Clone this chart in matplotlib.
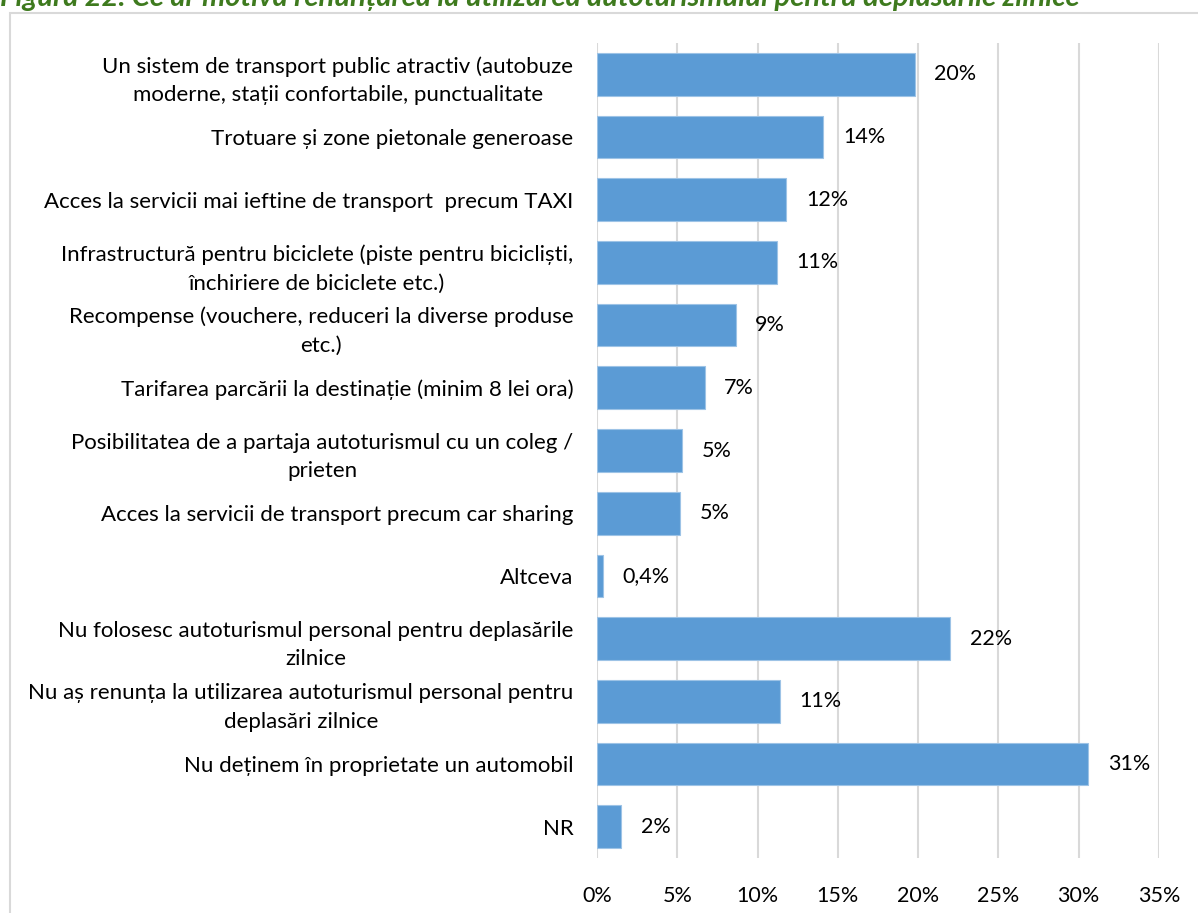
import matplotlib.pyplot as plt
from matplotlib.patches import Rectangle
from matplotlib.ticker import FuncFormatter, MultipleLocator

categories = [
    "Un sistem de transport public atractiv (autobuze\nmoderne, stații confortabile, punctualitate",
    "Trotuare și zone pietonale generoase",
    "Acces la servicii mai ieftine de transport  precum TAXI",
    "Infrastructură pentru biciclete (piste pentru bicicliști,\nînchiriere de biciclete etc.)",
    "Recompense (vouchere, reduceri la diverse produse\netc.)",
    "Tarifarea parcării la destinație (minim 8 lei ora)",
    "Posibilitatea de a partaja autoturismul cu un coleg /\nprieten",
    "Acces la servicii de transport precum car sharing",
    "Altceva",
    "Nu folosesc autoturismul personal pentru deplasările\nzilnice",
    "Nu aș renunța la utilizarea autoturismul personal pentru\ndeplasări zilnice",
    "Nu deținem în proprietate un automobil",
    "NR",
]
values = [19.8, 14.1, 11.8, 11.2, 8.65, 6.7, 5.3, 5.2, 0.37, 22.0, 11.4, 30.6, 1.5]
value_labels = ["20%", "14%", "12%", "11%", "9%", "7%", "5%", "5%", "0,4%", "22%", "11%", "31%", "2%"]
title = "Figura 22. Ce ar motiva renunțarea la utilizarea autoturismului pentru deplasările zilnice"

plt.rcParams['font.family'] = ['Lato', 'DejaVu Sans']

W, H = 1198, 913
fig = plt.figure(figsize=(W / 100, H / 100), dpi=100)

# outer frame
fig.patches.append(Rectangle((10 / W, -0.05), 1.2, 1 - 13 / H + 0.05, transform=fig.transFigure,
                             fill=False, edgecolor='#D9D9D9', linewidth=1.5))

# title (partly cut at top, as in the source image)
fig.text(0, 1 + 15 / H, title, ha='left', va='top', fontsize=21, fontweight='bold',
         fontstyle='italic', color='#3E7A1E')

ax = fig.add_axes([597 / W, 1 - 858 / H, (1159 - 597) / W, (858 - 43) / H])
y = list(range(len(categories)))
ax.barh(y, values, height=0.68, color='#5B9BD5', edgecolor='#9DC3E6', linewidth=0.8, zorder=3)
ax.set_ylim(len(categories) - 0.5, -0.5)
ax.set_xlim(0, 35)
ax.xaxis.set_major_locator(MultipleLocator(5))
ax.xaxis.set_major_formatter(FuncFormatter(lambda v, p: f"{v:.0f}%"))
ax.grid(axis='x', color='#D9D9D9', linewidth=1.5, zorder=0)
for s in ax.spines.values():
    s.set_visible(False)
ax.tick_params(length=0, labelsize=15.5, colors='black')
ax.tick_params(axis='x', pad=20)
ax.tick_params(axis='y', pad=17, labelsize=16)
ax.set_yticks(y)
ax.set_yticklabels(categories, multialignment='center', linespacing=1.55)

for yi, v, lab in zip(y, values, value_labels):
    ax.annotate(lab, (v, yi), xytext=(14, 0), textcoords='offset points', va='center', ha='left',
                fontsize=15.5, color='black')

fig.savefig('out.png', dpi=100)
